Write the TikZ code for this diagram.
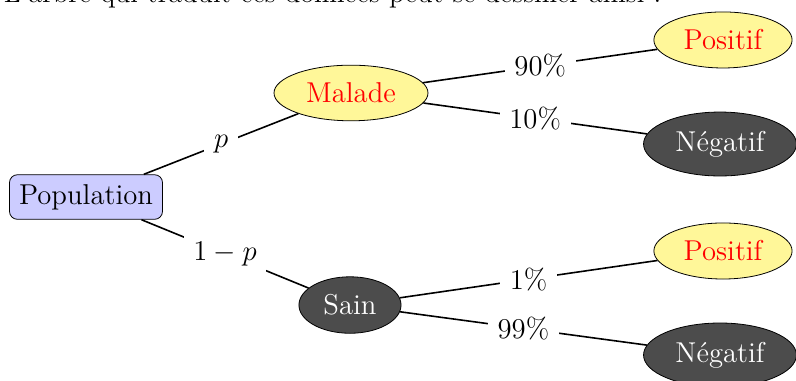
\documentclass[tikz,border=0pt]{standalone}
\usepackage{tikz}
\usetikzlibrary{shapes.geometric}

\definecolor{jaunepale}{RGB}{255,247,153}

\tikzset{
  every node/.style={font=\Large,inner sep=4.8pt},
  racine/.style={draw,rounded corners=4pt,fill=blue!20},
  jaune/.style={draw,ellipse,fill=jaunepale,text=red},
  sombre/.style={draw,ellipse,fill=black!70,text=white},
  proba/.style={fill=white},
  branche/.style={thick}
}

\begin{document}
\begin{tikzpicture}
  \useasboundingbox (0,0) rectangle (14.04,6.72);
  \node[anchor=base west,inner sep=0pt,xscale=0.98] (intro) at (0.06,6.67)
    {L'arbre qui traduit ces données peut se dessiner ainsi :};

  \node[racine] (population) at (1.517,3.245) {Population};
  \node[jaune]  (malade)     at (6.191,5.080) {Malade};
  \node[sombre] (sain)       at (6.173,1.340) {Sain};
  \node[jaune]  (posmalade)  at (12.752,6.015) {Positif};
  \node[sombre] (negmalade)  at (12.699,4.180) {Négatif};
  \node[jaune]  (possain)    at (12.752,2.293) {Positif};
  \node[sombre] (negsain)    at (12.699,0.459) {Négatif};

  \draw[branche] (population) -- node[proba]{$p$} (malade);
  \draw[branche] (population) -- node[proba]{$1-p$} (sain);
  \draw[branche] (malade) -- node[proba]{90\%} (posmalade);
  \draw[branche] (malade) -- node[proba]{10\%} (negmalade);
  \draw[branche] (sain) -- node[proba]{1\%} (possain);
  \draw[branche] (sain) -- node[proba]{99\%} (negsain);
\end{tikzpicture}
\end{document}
